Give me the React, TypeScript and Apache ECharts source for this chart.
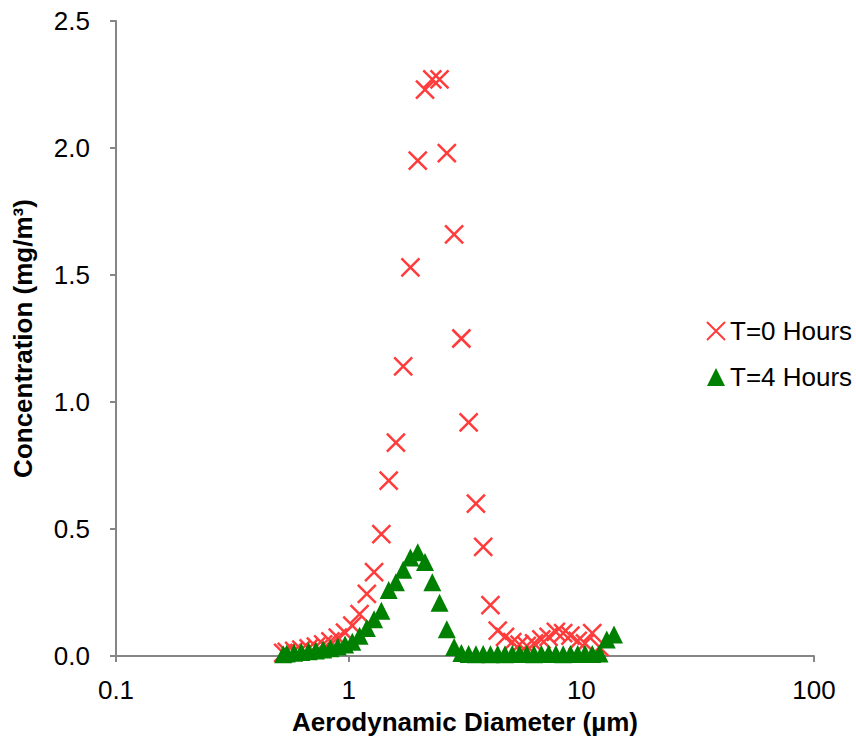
import React, { useEffect, useRef } from "react";
import * as echarts from "echarts";

// APS channel midpoint diameters (µm)
const diameters: number[] = [
  0.523, 0.542, 0.583, 0.626, 0.673, 0.723, 0.777, 0.835, 0.898, 0.965,
  1.037, 1.114, 1.197, 1.286, 1.382, 1.486, 1.596, 1.715, 1.843, 1.981,
  2.129, 2.288, 2.458, 2.642, 2.839, 3.051, 3.278, 3.523, 3.786, 4.068,
  4.371, 4.698, 5.048, 5.425, 5.829, 6.264, 6.732, 7.234, 7.774, 8.354,
  8.977, 9.647, 10.37, 11.14, 11.97, 12.86, 13.82,
];

// T=0 Hours concentration (mg/m³)
const t0Values: (number | null)[] = [
  0.012, 0.016, 0.02, 0.025, 0.03, 0.037, 0.046, 0.058, 0.072, 0.092,
  0.12, 0.165, 0.245, 0.33, 0.48, 0.69, 0.84, 1.14, 1.53, 1.95,
  2.23, 2.27, 2.27, 1.98, 1.66, 1.25, 0.92, 0.6, 0.43, 0.2,
  0.1, 0.075, 0.055, 0.045, 0.04, 0.05, 0.065, 0.075, 0.095, 0.09,
  0.08, 0.06, 0.05, 0.09, 0.035, null, null,
];

// T=4 Hours concentration (mg/m³)
const t4Values: (number | null)[] = [
  0.007, 0.01, 0.013, 0.016, 0.019, 0.022, 0.026, 0.031, 0.037, 0.045,
  0.056, 0.08, 0.11, 0.145, 0.178, 0.26, 0.29, 0.34, 0.388, 0.408,
  0.37, 0.29, 0.21, 0.105, 0.035, 0.012, 0.008, 0.007, 0.008, 0.007,
  0.008, 0.007, 0.008, 0.009, 0.008, 0.007, 0.008, 0.009, 0.008, 0.007,
  0.008, 0.008, 0.009, 0.008, 0.01, 0.065, 0.085,
];

const xTickLabels: string[] = ["0.1", "1", "10", "100"];
const seriesNames: string[] = ["T=0 Hours", "T=4 Hours"];

const X_PATH = "path://M0,0L10,10M10,0L0,10";

export default function App() {
  const ref = useRef<HTMLDivElement>(null);

  useEffect(() => {
    if (!ref.current) return;
    const chart = echarts.init(ref.current, undefined, { renderer: "svg" });

    const toPairs = (vals: (number | null)[]) =>
      diameters
        .map((d, i) => [d, vals[i]])
        .filter((p) => p[1] !== null && p[1] !== undefined);

    const font = "Arial, 'Liberation Sans', sans-serif";
    const FS = 26;

    chart.setOption({
      animation: false,
      backgroundColor: "#ffffff",
      textStyle: { fontFamily: font },
      grid: {
        left: 116,
        right: 42,
        top: 21,
        bottom: 86,
        containLabel: false,
        outerBoundsMode: "none",
      },
      legend: {
        orient: "vertical",
        left: 706,
        top: 318,
        itemWidth: 18,
        itemHeight: 18,
        itemGap: 20,
        padding: 0,
        textStyle: { fontSize: FS, lineHeight: 26, color: "#000", fontFamily: font },
        data: seriesNames,
      },
      xAxis: {
        type: "log",
        logBase: 10,
        min: 0.1,
        max: 100,
        name: "Aerodynamic Diameter (µm)",
        nameLocation: "middle",
        nameGap: 53,
        nameTextStyle: { fontSize: FS, fontWeight: "bold", color: "#000", fontFamily: font },
        axisLine: { show: true, lineStyle: { color: "#868686", width: 2 } },
        axisTick: { show: true, length: 6, inside: false, lineStyle: { color: "#868686", width: 2 } },
        minorTick: { show: false },
        splitLine: { show: false },
        axisLabel: {
          fontSize: FS,
          color: "#000",
          margin: 21,
          fontFamily: font,
          formatter: (v: number) => {
            const idx = Math.round(Math.log10(v)) + 1;
            return xTickLabels[idx] ?? String(v);
          },
        },
      },
      yAxis: {
        type: "value",
        min: 0,
        max: 2.5,
        interval: 0.5,
        name: "Concentration (mg/m³)",
        nameLocation: "middle",
        nameGap: 80,
        nameTextStyle: { fontSize: FS, fontWeight: "bold", color: "#000", fontFamily: font },
        axisLine: { show: true, lineStyle: { color: "#868686", width: 2 } },
        axisTick: { show: true, length: 6, inside: false, lineStyle: { color: "#868686", width: 2 } },
        splitLine: { show: false },
        axisLabel: {
          fontSize: FS,
          color: "#000",
          margin: 26,
          fontFamily: font,
          formatter: (v: number) => v.toFixed(1),
        },
      },
      series: [
        {
          name: seriesNames[0],
          type: "scatter",
          symbol: X_PATH,
          symbolSize: 18,
          data: toPairs(t0Values),
          itemStyle: { color: "#FF3B3B", borderColor: "#FF3B3B", borderWidth: 2.5, opacity: 1 },
          z: 2,
        },
        {
          name: seriesNames[1],
          type: "scatter",
          symbol: "triangle",
          symbolSize: 18,
          data: toPairs(t4Values),
          itemStyle: { color: "#008000", opacity: 1 },
          z: 3,
        },
      ],
    });

    return () => chart.dispose();
  }, []);

  return (
    <div
      ref={ref}
      style={{ position: "fixed", left: 0, top: 0, width: 856, height: 742, background: "#fff" }}
    />
  );
}
